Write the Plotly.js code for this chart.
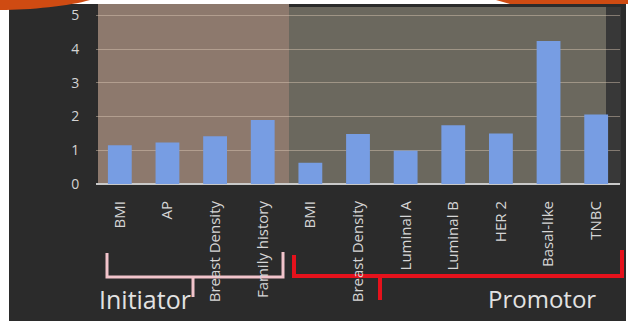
<!DOCTYPE html>
<html>
<head>
<meta charset="utf-8">
<script src="https://cdn.plot.ly/plotly-3.0.1.min.js"></script>
<style>
html,body{margin:0;padding:0;background:#ffffff;}
#chart{width:628px;height:322px;}
</style>
</head>
<body>
<div id="chart"></div>
<script>
// ---- data ----
var categories = ["BMI", "AP", "Breast Density", "Family history", "BMI", "Breast Density", "Luminal A", "Luminal B", "HER 2", "Basal-like", "TNBC"];
var values = [1.15, 1.23, 1.42, 1.90, 0.63, 1.48, 0.99, 1.74, 1.50, 4.24, 2.06];
var groupLabels = ["Initiator", "Promotor"];
var yTicks = [0, 1, 2, 3, 4, 5];

// ---- layout helpers (pixel -> paper) ----
var W = 628, H = 322;
var mL = 96, mR = 8, mT = 4, mB = 138;
var pw = W - mL - mR, ph = H - mT - mB;
function fx(px){ return (px - mL) / pw; }
function fy(py){ return (H - mB - py) / ph; }
function path(pts){
  return pts.map(function(p){ return p[0] + fx(p[1]) + ',' + fy(p[2]); }).join(' ');
}

var xIdx = categories.map(function(c, i){ return i; });

var trace = {
  type: 'bar',
  x: xIdx,
  y: values,
  width: 0.5,
  marker: {color: '#779de3', line: {width: 0}},
  hoverinfo: 'skip'
};

var shapes = [
  // dark slide background
  {type:'rect', xref:'paper', yref:'paper', x0:fx(9), x1:fx(626), y0:fy(321), y1:fy(4), fillcolor:'#2b2b2b', line:{width:0}, layer:'below'},
  // initiator shading
  {type:'rect', xref:'paper', yref:'paper', x0:fx(98), x1:fx(289), y0:fy(184), y1:fy(4), fillcolor:'#8d796d', line:{width:0}, layer:'below'},
  // promotor shading
  {type:'rect', xref:'paper', yref:'paper', x0:fx(289), x1:fx(606), y0:fy(184), y1:fy(7), fillcolor:'#6b685e', line:{width:0}, layer:'below'},
  // right dark strip inside plot
  {type:'rect', xref:'paper', yref:'paper', x0:fx(606), x1:fx(621), y0:fy(184), y1:fy(7), fillcolor:'#383838', line:{width:0}, layer:'below'},
  // initiator bracket
  {type:'path', xref:'paper', yref:'paper', layer:'below',
   path: path([['M',107,253],['L',107,277],['L',283,277],['L',283,252]]) + ' ' + path([['M',193,277],['L',193,297]]),
   line:{color:'#f2c4cb', width:3}},
  // promotor bracket
  {type:'path', xref:'paper', yref:'paper', layer:'below',
   path: path([['M',294,255],['L',294,276],['L',622,276],['L',622,250]]) + ' ' + path([['M',380,276],['L',380,300]]),
   line:{color:'#e5121c', width:4}},
  // orange decorations
  {type:'path', xref:'paper', yref:'paper', layer:'above',
   path: 'M' + fx(0) + ',' + fy(0) + ' L' + fx(90) + ',' + fy(0) + ' C' + fx(70) + ',' + fy(6) + ' ' + fx(30) + ',' + fy(10) + ' ' + fx(0) + ',' + fy(10) + ' Z',
   fillcolor:'#cf4b12', line:{width:0}},
  {type:'path', xref:'paper', yref:'paper', layer:'above',
   path: 'M' + fx(496) + ',' + fy(0) + ' L' + fx(628) + ',' + fy(0) + ' L' + fx(628) + ',' + fy(4) + ' L' + fx(510) + ',' + fy(4) + ' Z',
   fillcolor:'#cf4b12', line:{width:0}}
];

var layout = {
  width: W, height: H,
  margin: {l: mL, r: mR, t: mT, b: mB, pad: 0},
  paper_bgcolor: '#ffffff',
  plot_bgcolor: 'rgba(0,0,0,0)',
  showlegend: false,
  font: {family: 'Open Sans, sans-serif', color: '#d8d8d8'},
  xaxis: {
    range: [-0.5, 10.5],
    tickmode: 'array',
    tickvals: xIdx,
    ticktext: categories,
    tickangle: -90,
    tickfont: {size: 15, color: '#d6d6d6'},
    ticks: 'outside', ticklen: 10, tickcolor: 'rgba(0,0,0,0)',
    showgrid: false,
    zeroline: false,
    showline: false,
    fixedrange: true
  },
  yaxis: {
    range: [0, 5.34],
    tickmode: 'array',
    tickvals: yTicks,
    ticktext: yTicks.map(String),
    tickfont: {size: 14, color: '#d4d4d4'},
    ticks: 'outside', ticklen: 13, tickcolor: 'rgba(0,0,0,0)',
    showgrid: true,
    gridcolor: 'rgba(225,205,185,0.45)',
    gridwidth: 1,
    zeroline: true,
    zerolinecolor: '#c9c9c9',
    zerolinewidth: 2,
    showline: false,
    fixedrange: true
  },
  shapes: shapes,
  annotations: [
    {xref:'paper', yref:'paper', x: fx(145), y: fy(299), text: groupLabels[0], showarrow:false,
     font:{size:25, color:'#e2e2e2', family:'Open Sans, sans-serif'}, xanchor:'center', yanchor:'middle'},
    {xref:'paper', yref:'paper', x: fx(542), y: fy(298), text: groupLabels[1], showarrow:false,
     font:{size:24, color:'#e2e2e2', family:'Open Sans, sans-serif'}, xanchor:'center', yanchor:'middle'}
  ]
};

Plotly.newPlot('chart', [trace], layout, {displayModeBar: false, staticPlot: true});
</script>
</body>
</html>
